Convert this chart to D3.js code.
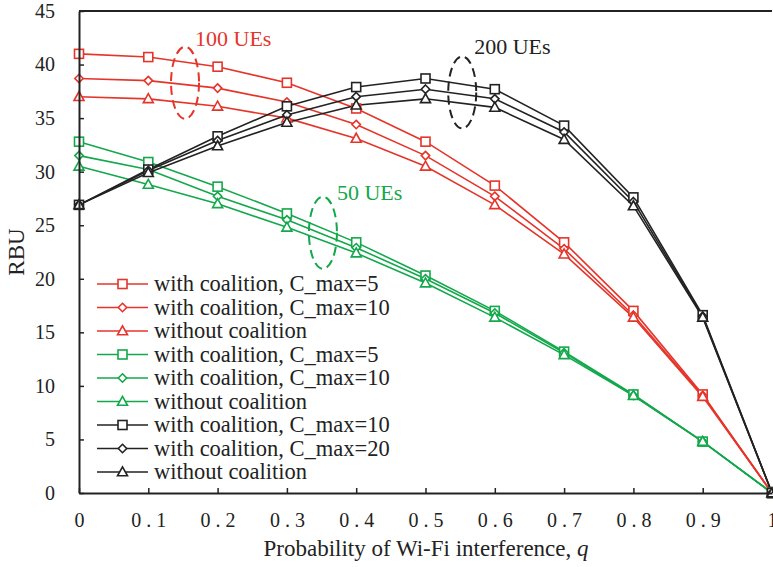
<!DOCTYPE html>
<html>
<head>
<meta charset="utf-8">
<script src="https://cdn.jsdelivr.net/npm/d3@7"></script>
</head>
<body style="margin:0">
<script>
// probability of Wi-Fi interference
const qValues = [0, 0.1, 0.2, 0.3, 0.4, 0.5, 0.6, 0.7, 0.8, 0.9, 1];
const yTicks = [0, 5, 10, 15, 20, 25, 30, 35, 40, 45];

// 100 UEs (red)
const ue100Cmax5  = [41.0, 40.7, 39.8, 38.3, 35.9, 32.8, 28.7, 23.4, 17.0, 9.2, 0];
const ue100Cmax10 = [38.7, 38.5, 37.8, 36.5, 34.4, 31.5, 27.7, 22.8, 16.6, 9.1, 0];
const ue100NoCoal = [37.0, 36.8, 36.1, 35.0, 33.1, 30.5, 26.9, 22.3, 16.4, 9.0, 0];

// 50 UEs (green)
const ue50Cmax5  = [32.8, 30.9, 28.6, 26.1, 23.4, 20.3, 17.0, 13.2, 9.2, 4.8, 0];
const ue50Cmax10 = [31.5, 30.2, 27.7, 25.5, 22.9, 20.0, 16.8, 13.1, 9.1, 4.8, 0];
const ue50NoCoal = [30.5, 28.8, 27.0, 24.8, 22.4, 19.6, 16.4, 12.9, 9.1, 4.8, 0];

// 200 UEs (black)
const ue200Cmax10 = [26.9, 30.2, 33.3, 36.1, 37.9, 38.7, 37.7, 34.3, 27.6, 16.6, 0];
const ue200Cmax20 = [26.9, 30.1, 32.9, 35.3, 37.0, 37.7, 36.8, 33.7, 27.2, 16.5, 0];
const ue200NoCoal = [26.9, 29.9, 32.4, 34.6, 36.2, 36.8, 36.0, 33.0, 26.8, 16.4, 0];

const RED = "#e5352b", GREEN = "#13a84b", BLACK = "#222";
const FONT = '"Liberation Serif"';

const series = [
  { label: "with coalition, C_max=5",  color: RED,   shape: "square",   values: ue100Cmax5 },
  { label: "with coalition, C_max=10", color: RED,   shape: "diamond",  values: ue100Cmax10 },
  { label: "without coalition",        color: RED,   shape: "triangle", values: ue100NoCoal },
  { label: "with coalition, C_max=5",  color: GREEN, shape: "square",   values: ue50Cmax5 },
  { label: "with coalition, C_max=10", color: GREEN, shape: "diamond",  values: ue50Cmax10 },
  { label: "without coalition",        color: GREEN, shape: "triangle", values: ue50NoCoal },
  { label: "with coalition, C_max=10", color: BLACK, shape: "square",   values: ue200Cmax10 },
  { label: "with coalition, C_max=20", color: BLACK, shape: "diamond",  values: ue200Cmax20 },
  { label: "without coalition",        color: BLACK, shape: "triangle", values: ue200NoCoal }
];

// group annotations: dashed ellipse + label
const groups = [
  { text: "100 UEs", color: RED,   q: 0.153, v: 38.3, dx: 10, dy: -37 },
  { text: "200 UEs", color: BLACK, q: 0.553, v: 37.4, dx: 12, dy: -38 },
  { text: "50 UEs",  color: GREEN, q: 0.352, v: 24.3, dx: 14, dy: -33 }
];

const W = 773, H = 567;
const margin = { top: 11, right: 1, bottom: 74, left: 79 };
const width = W - margin.left - margin.right;
const height = H - margin.top - margin.bottom;

const svg = d3.select("body").append("svg")
    .attr("width", W)
    .attr("height", H);

const g = svg.append("g")
    .attr("transform", `translate(${margin.left},${margin.top})`);

const x = d3.scaleLinear().domain([0, 1]).range([0, width]);
const y = d3.scaleLinear().domain([0, 45]).range([height, 0]);

// symbols
function drawMarker(sel, shape, color) {
  if (shape === "square") {
    sel.append("rect")
      .attr("x", -4.5).attr("y", -4.5).attr("width", 9).attr("height", 9);
  } else if (shape === "diamond") {
    sel.append("path").attr("d", "M0,-4.2L4.2,0L0,4.2L-4.2,0Z");
  } else {
    sel.append("path").attr("d", "M0,-5.2L5,3.8L-5,3.8Z");
  }
  sel.selectAll("rect,path")
    .attr("fill", "#fff")
    .attr("stroke", color)
    .attr("stroke-width", 1.6);
}

const line = d3.line()
    .x((d, i) => x(qValues[i]))
    .y(d => y(d));

// lines
g.selectAll(".series-line")
    .data(series)
  .enter().append("path")
    .attr("class", "series-line")
    .attr("fill", "none")
    .attr("stroke", d => d.color)
    .attr("stroke-width", 1.6)
    .attr("d", d => line(d.values));

// markers
series.forEach(s => {
  s.values.forEach((v, i) => {
    const m = g.append("g")
        .attr("transform", `translate(${x(qValues[i])},${y(v)})`);
    drawMarker(m, s.shape, s.color);
  });
});

// axes
const yAxis = g.append("g")
    .call(d3.axisLeft(y).tickValues(yTicks).tickSize(-5).tickPadding(24).tickSizeOuter(0));
yAxis.attr("font-family", null);
yAxis.select(".domain").attr("stroke", "#222").attr("stroke-width", 2);
yAxis.selectAll(".tick line").attr("stroke", "#222").attr("stroke-width", 1.5);
yAxis.selectAll(".tick text")
    .style("font-family", FONT).attr("font-size", 20)
    .attr("fill", "#222");

const xAxis = g.append("g")
    .attr("transform", `translate(0,${height})`)
    .call(d3.axisBottom(x).tickValues(qValues).tickSize(-5).tickPadding(20).tickSizeOuter(0)
        .tickFormat(d => d === 0 ? "0" : d === 1 ? "1" : d3.format(".1f")(d)));
xAxis.attr("font-family", null);
xAxis.select(".domain").attr("stroke", "#222").attr("stroke-width", 2);
xAxis.selectAll(".tick line").attr("stroke", "#222").attr("stroke-width", 1.5);
xAxis.selectAll(".tick text")
    .style("font-family", FONT).attr("font-size", 20)
    .attr("fill", "#222")
    .attr("letter-spacing", d => (d === 0 || d === 1) ? 0 : 5)
    .attr("dx", d => (d === 0 || d === 1) ? 0 : 2.5);

// top frame line
g.append("line")
    .attr("x1", 0).attr("x2", width)
    .attr("y1", 0).attr("y2", 0)
    .attr("stroke", "#222").attr("stroke-width", 2);

// axis titles
svg.append("text")
    .attr("x", 426)
    .attr("y", 556)
    .attr("text-anchor", "middle")
    .style("font-family", FONT).attr("font-size", 23)
    .attr("fill", "#222")
    .html('Probability of Wi-Fi interference, <tspan font-style="italic">q</tspan>');

svg.append("text")
    .attr("transform", `translate(24,${margin.top + height / 2}) rotate(-90)`)
    .attr("text-anchor", "middle")
    .style("font-family", FONT).attr("font-size", 23)
    .attr("fill", "#222")
    .text("RBU");

// group ellipses and labels
groups.forEach(gr => {
  const cx = x(gr.q), cy = y(gr.v);
  g.append("ellipse")
      .attr("cx", cx).attr("cy", cy)
      .attr("rx", 14).attr("ry", 36)
      .attr("fill", "none")
      .attr("stroke", gr.color)
      .attr("stroke-width", 2)
      .attr("stroke-dasharray", "9,5");
  g.append("text")
      .attr("x", cx + gr.dx).attr("y", cy + gr.dy)
      .style("font-family", FONT).attr("font-size", 22)
      .attr("fill", gr.color)
      .text(gr.text);
});

// legend
const legend = svg.append("g")
    .attr("transform", "translate(97,284)");

const rows = legend.selectAll(".legend-row")
    .data(series)
  .enter().append("g")
    .attr("class", "legend-row")
    .attr("transform", (d, i) => `translate(0,${i * 23.5})`);

rows.append("line")
    .attr("x1", 0).attr("x2", 51)
    .attr("stroke", d => d.color)
    .attr("stroke-width", 1.6);

rows.each(function (d) {
  const m = d3.select(this).append("g").attr("transform", "translate(25.5,0)");
  drawMarker(m, d.shape, d.color);
});

rows.append("text")
    .attr("x", 57)
    .attr("y", 7)
    .style("font-family", FONT).attr("font-size", 22.5)
    .attr("fill", "#222")
    .text(d => d.label);
</script>
</body>
</html>
